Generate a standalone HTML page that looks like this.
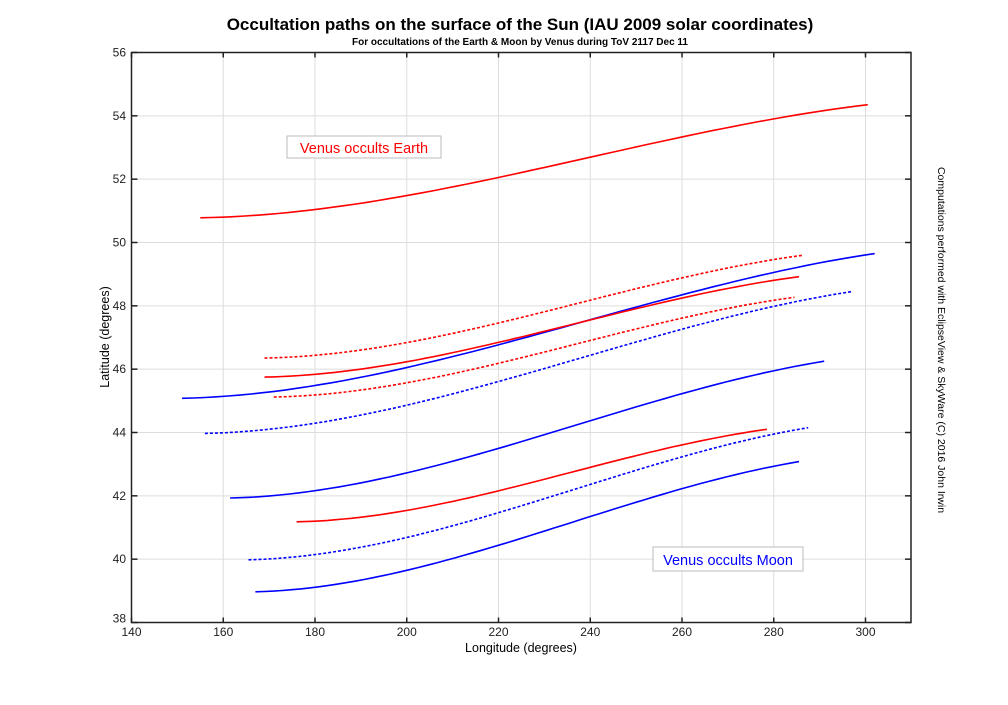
<!DOCTYPE html>
<html><head><style>body{margin:0;background:#fff}svg text{font-family:"Liberation Sans",Arial,sans-serif}</style></head>
<body>
<svg id="s" width="1008" height="700" xmlns="http://www.w3.org/2000/svg">
<rect width="1008" height="700" fill="#fff"/>
<g id="grid" stroke="#ddd" stroke-width="1"></g>
<g id="curves" fill="none" stroke-width="1.6"></g>
<rect x="131.5" y="52.5" width="779.5" height="570" fill="none" stroke="#222" stroke-width="1.5"/>
<g id="ticks" stroke="#222" stroke-width="1.5"></g>
<g id="labels" font-size="12" fill="#222"></g>
<text x="520" y="30" font-size="17" font-weight="bold" text-anchor="middle">Occultation paths on the surface of the Sun (IAU 2009 solar coordinates)</text>
<text x="520" y="45" font-size="10" font-weight="bold" text-anchor="middle">For occultations of the Earth &amp; Moon by Venus during ToV 2117 Dec 11</text>
<text x="521" y="652" font-size="12.5" text-anchor="middle">Longitude (degrees)</text>
<text transform="translate(109,337) rotate(-90)" font-size="12.5" text-anchor="middle">Latitude (degrees)</text>
<text transform="translate(938,340) rotate(90)" font-size="10.5" text-anchor="middle">Computations performed with EclipseView &amp; SkyWare (C) 2016 John Irwin</text>
<rect x="287" y="136" width="154" height="22" fill="#fff" stroke="#bbb"/>
<text x="364" y="153" font-size="14.5" fill="#f00" text-anchor="middle">Venus occults Earth</text>
<rect x="653" y="547" width="150" height="24" fill="#fff" stroke="#bbb"/>
<text x="728" y="565" font-size="14.5" fill="#00f" text-anchor="middle">Venus occults Moon</text>
</svg>
<script>
var X=function(v){return 131.5+(v-140)*4.5875},Y=function(v){return 622.5-(v-38)*31.667};
var g=document.getElementById('grid'),t=document.getElementById('ticks'),l=document.getElementById('labels'),c=document.getElementById('curves');
var h='',tk='',lb='';
for(var v=160;v<=300;v+=20){h+='<line x1="'+X(v)+'" y1="52.5" x2="'+X(v)+'" y2="622.5"/>';}
for(var v=140;v<=300;v+=20){tk+='<line x1="'+X(v)+'" y1="52.5" x2="'+X(v)+'" y2="57.5"/><line x1="'+X(v)+'" y1="622.5" x2="'+X(v)+'" y2="617.5"/>';lb+='<text x="'+X(v)+'" y="636" text-anchor="middle">'+v+'</text>';}
for(var v=40;v<=54;v+=2){h+='<line x1="131.5" y1="'+Y(v)+'" x2="911" y2="'+Y(v)+'"/>';}
for(var v=38;v<=56;v+=2){tk+='<line x1="131.5" y1="'+Y(v)+'" x2="137.5" y2="'+Y(v)+'"/><line x1="911" y1="'+Y(v)+'" x2="905" y2="'+Y(v)+'"/>';lb+='<text x="126" y="'+(Y(v)+(v==38?0:4))+'" text-anchor="end">'+v+'</text>';}
g.innerHTML=h;t.innerHTML=tk;l.innerHTML=lb;
var C=[[155,50.78,300.5,54.35,'#f00',0],[169,46.35,286.5,49.6,'#f00',1],[151,45.08,302,49.65,'#00f',0],[169,45.75,285.5,48.92,'#f00',0],[171,45.12,284.5,48.27,'#f00',1],[156,43.97,297,48.45,'#00f',1],[161.5,41.93,291,46.25,'#00f',0],[176,41.18,278.5,44.1,'#f00',0],[165.5,39.98,287.5,44.15,'#00f',1],[167,38.97,285.5,43.08,'#00f',0]];
var s='';
C.forEach(function(a){var d='';for(var i=0;i<=60;i++){var u=i/60;var f=0.3*u*u+0.6*(3*u*u-2*u*u*u)+0.1*u;var x=a[0]+(a[2]-a[0])*u,y=a[1]+(a[3]-a[1])*f;d+=(i?'L':'M')+X(x).toFixed(1)+' '+Y(y).toFixed(1);}
s+='<path d="'+d+'" stroke="'+a[4]+'"'+(a[5]?' stroke-dasharray="3,2"':'')+'/>';});
c.innerHTML=s;
</script>
</body></html>
